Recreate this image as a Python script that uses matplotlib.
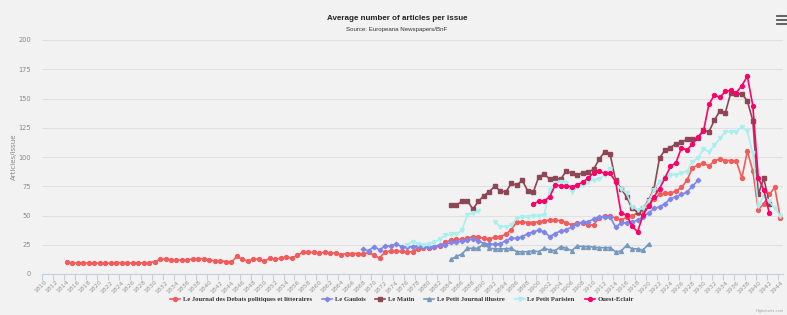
import numpy as np
import matplotlib
matplotlib.use("Agg")
import matplotlib.pyplot as plt
from matplotlib.lines import Line2D

nan = np.nan

# year range of the category axis
first_year = 1810
last_year = 1944

debats_start = 1814
debats = [10, 9.5, 9.5, 9.3, 9.7, 9.3, 9.3, 9.3, 9.2, 9.8, 9.6, 9.3, 9.5, 9.5, 9.5, 9.7,
          10.5, 12.5, 13, 12, 12, 12, 12, 13, 13, 13,
          12, 11, 11.5, 10.5, 10, 15, 12.5, 11, 12.5, 13,
          11, 13.5, 12.5, 13.5, 14.5, 13.5, 16, 18.5, 18.5, 18.5,
          18, 18.5, 18, 18, 16.5, 17.5, 17.5, 17.5, 17, 18.5,
          16, 13.5, 19, 19.5, 19.5, 19.5, 19, 19, 21.5, 22,
          22.5, 23, 24, 27, 29, 29.5, 29.5, 30.5, 32, 31.5,
          30.5, 30, 31.5, 32, 34, 38, 44.5, 44.5, 44, 44,
          44.5, 45.5, 46, 46, 45.5, 44, 42, 43.5, 43.5, 42,
          42, 48, 49.5, 50, 47.5, 46, 48.5, 50, 52, 55,
          60, 64, 68, 69, 69, 71, 74, 80, 91, 93,
          95, 92, 97, 98, 97, 97, 96.5, 82, 105, 88,
          55, 60, 68, 74, 48]

gaulois_start = 1868
gaulois = [21, 20,
           23.5, 20.5, 24, 24, 25.5, 23.5, 23, 23.5, 24, 23,
           23, 23.5, 25, 25, 27, 27.5, 28, 29, 30, 28.5,
           26, 25.5, 25.5, 26, 28.5, 30.5, 30.5, 32, 34.5, 36,
           37.5, 36, 32, 34.5, 37, 37.5, 40.5, 42.5, 44.5, 44.5,
           47, 49, 49, 49, 40, 43.5, 44, 44.5, 46, 49,
           52, 56, 57.5, 60, 64.5, 66, 68, 70, 75, 80]

matin_start = 1884
matin = [59, 59, 62, 62.5, 55.5, 62,
         67, 70.5, 75, 71, 70, 77.5, 76, 80, 71, 70,
         83, 85.5, 81, 82, 81, 88, 86, 84.5, 86.5, 87,
         89.5, 98, 104.5, 102.5, 80, 73, 66, 56, 53, 56,
         63, 73, 99, 106, 108, 111.5, 112.5, 115, 115.5, 116.5,
         123, 121.5, 131.5, 139.5, 138, 155, 153.5, 154, 148, 131,
         68, 82, 60]

pj_start = 1884
petit_journal = [12.5, 15, 17, 22, 22, 22,
                 26, 22, 21.5, 21.5, 21.5, 22, 19, 19, 19, 20,
                 19, 22, 20.5, 20, 23.5, 22, 20, 24, 23.5, 23.5,
                 23, 22.5, 22.5, 22.5, 19, 19.5, 24.5, 21.5, 21.5, 20.5,
                 25.5]

pp_start = 1876
petit_parisien = [25, 27.5, 26, 25,
                  25.5, 27, 30, 33, 34, 34, 37.5, 50.5, 52, 53.5,
                  nan, nan, 44.5, 40.5, 40.5, 42, 47.5, 48.5, 49, 49.5,
                  49.5, 50.5, 72, 78, 79, 78, 70.5, 74, 76, 79,
                  80, 81, 85, 90, 77.5, 73, 69, 57.5, 55, 56,
                  62, 72, 79, 83, 84.5, 85, 86, 87.5, 96, 99,
                  107, 104.5, 110, 116, 121.5, 121.5, 121.5, 126, 122, 103,
                  58, 67, 62, 56, 50]

oe_start = 1899
ouest_eclair = [60,
                62, 62.5, 66, 76, 75.5, 75.5, 74.5, 76, 78.5, 82,
                86.5, 88, 86, 86, 79, 52, 50.5, 41, 36, 50.5,
                58, 66, 73, 82, 92, 95, 108, 106, 111, 117,
                122, 145, 153, 151, 156, 157, 155, 161, 169, 144,
                82, 72, 52]

names = ["Le Journal des Debats politiques et litteraires", "Le Gaulois", "Le Matin",
         "Le Petit Journal illustre", "Le Petit Parisien", "Ouest-Eclair"]
colors = ["#f45b5b", "#8085e9", "#8d4654", "#7798BF", "#aaeeee", "#ff0066"]
markers = ["o", "D", "s", "^", "v", "o"]
msizes = [2.8, 2.3, 2.8, 2.8, 2.8, 2.8]

series = [(debats_start, debats), (gaulois_start, gaulois), (matin_start, matin),
          (pj_start, petit_journal), (pp_start, petit_parisien), (oe_start, ouest_eclair)]

bg = "#f2f2f2"
fig = plt.figure(figsize=(7.87, 3.15), dpi=100, facecolor=bg)
W, H = 787, 315
ax = fig.add_axes([42 / W, 1 - 274 / H, 741 / W, 234 / H], facecolor=bg)

for (start, vals), name, c, m, ms in zip(series, names, colors, markers, msizes):
    x = np.arange(start, start + len(vals))
    ax.plot(x, vals, color=c, lw=1.2, marker=m, ms=ms, mec=c, mfc=c, label=name, zorder=3)

ax.set_xlim(first_year - 0.5, last_year + 0.5)
ax.set_ylim(0, 200)
ax.set_yticks(np.arange(0, 201, 25))
ax.yaxis.grid(True, color="#e0e0e0", lw=0.8)
ax.set_axisbelow(True)
for s in ["top", "right", "left"]:
    ax.spines[s].set_visible(False)
ax.spines["bottom"].set_color("#c0d0e0")
ax.tick_params(axis="y", length=0, labelsize=4.8, labelcolor="#888888", pad=8)

label_years = np.arange(first_year, last_year + 1, 2)
ax.set_xticks(label_years)
ax.set_xticklabels([str(y) for y in label_years], rotation=45, ha="right",
                   rotation_mode="anchor", fontsize=4.5, color="#999999")
ax.tick_params(axis="x", length=0, pad=4)
ax.set_xticks(label_years - 0.5, minor=True)
ax.tick_params(axis="x", which="minor", length=4, color="#c0d0e0", width=0.8)

ax.set_ylabel("Articles/issue", fontsize=5, color="#888888", labelpad=1)

fig.text(397 / W, 1 - 18 / H, "Average number of articles per issue", ha="center",
         va="center", fontsize=5.8, fontweight="bold", color="#222222",
         family="Liberation Sans")
fig.text(397 / W, 1 - 29.5 / H, "Source: Europeana Newspapers/BnF", ha="center",
         va="center", fontsize=4.4, color="#333333", family="Liberation Sans")

# menu icon
for dy in (16, 20, 24):
    fig.add_artist(Line2D([777 / W, 787 / W], [1 - dy / H, 1 - dy / H],
                          color="#555555", lw=1.3))

fig.text(784 / W, 1 - 311 / H, "Highcharts.com", ha="right", va="center",
         fontsize=2.5, color="#999999")

leg = fig.legend(loc="center", bbox_to_anchor=(402 / W, 1 - 299 / H), ncol=6,
                 frameon=False, handlelength=1.5, columnspacing=1.5, handletextpad=0.4,
                 prop={"family": "Liberation Serif", "weight": "bold", "size": 4.8})
for t in leg.get_texts():
    t.set_color("#333333")

fig.savefig("out.png", dpi=100, facecolor=bg)
